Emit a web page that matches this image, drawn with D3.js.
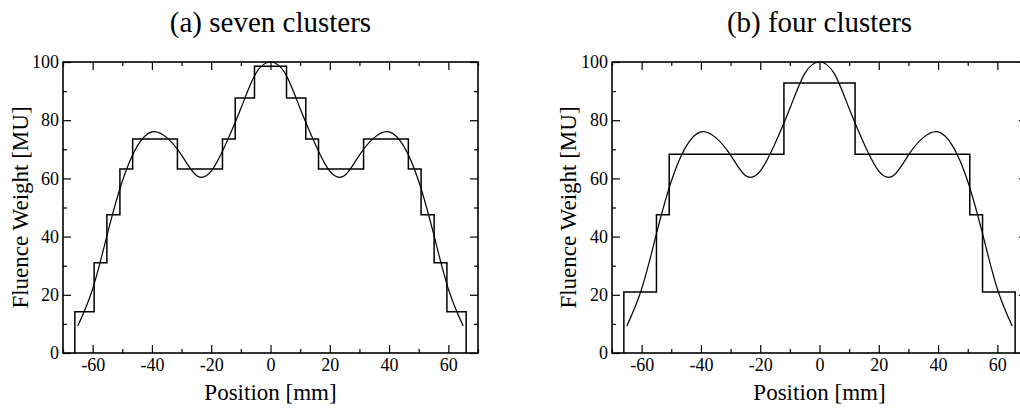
<!DOCTYPE html>
<html lang="en">
<head>
    <meta charset="UTF-8">
    <title>Fluence weight clusters</title>
    <style>
        body { margin: 0; background: #fff; }
        svg text { font-family: "Liberation Serif", "Times New Roman", serif; fill: #000; }
        .axis-label { font-size: 23px; }
        .title { font-size: 29px; }
        .domain { display: none; }
    </style>
</head>
<body>
    <svg width="1020" height="408"></svg>

    <script src="https://d3js.org/d3.v7.min.js"></script>

    <script>

        // Smooth ideal fluence profile (symmetric about 0)
        const profileX = [-65, -60, -55, -50, -45, -40, -35, -30, -25, -20, -15, -10, -5, 0,
                          5, 10, 15, 20, 25, 30, 35, 40, 45, 50, 55, 60, 65];
        const profileY = [9.3, 22, 41, 59, 71, 76, 74, 68, 61, 62.5, 72, 84, 96, 100,
                          96, 84, 72, 62.5, 61, 68, 74, 76, 71, 59, 41, 22, 9.3];

        // (a) seven clusters: step edges and level of each step
        const sevenEdges = [-66, -59.5, -55.2, -50.8, -46.5, -31.4, -16.2, -11.9, -5.4,
                            5.4, 11.9, 16.2, 31.4, 46.5, 50.8, 55.2, 59.5, 66];
        const sevenLevels = [14.2, 31, 47.5, 63.2, 73.5, 63.2, 73.5, 87.6, 98.5,
                             87.6, 73.5, 63.2, 73.5, 63.2, 47.5, 31, 14.2];

        // (b) four clusters
        const fourEdges = [-66, -55, -50.7, -12, 12, 50.7, 55, 66];
        const fourLevels = [21, 47.5, 68.3, 92.8, 68.3, 47.5, 21];

        const xTicks = [-60, -40, -20, 0, 20, 40, 60];
        const xMinor = [-70, -50, -30, -10, 10, 30, 50, 70];
        const yTicks = [0, 20, 40, 60, 80, 100];
        const yMinor = [10, 30, 50, 70, 90];

        const svg = d3.select('svg');

        const plotTop = 62, plotBottom = 353;

        // plain hyphen for negatives, like the original
        const fmt = function (d) { return String(d); };

        const panels = [
            { title: '(a) seven clusters', left: 63, right: 478, edges: sevenEdges, levels: sevenLevels, ylabX: 28 },
            { title: '(b) four clusters', left: 612, right: 1027, edges: fourEdges, levels: fourLevels, ylabX: 576 }
        ];

        panels.forEach(function (p) {

            const xScale = d3.scaleLinear().domain([-70, 70]).range([p.left, p.right]);
            const yScale = d3.scaleLinear().domain([0, 100]).range([plotBottom, plotTop]);

            const g = svg.append('g');

            // ticks, all pointing inward
            const axes = [
                { axis: d3.axisBottom(xScale).tickValues(xTicks).tickSize(-8).tickPadding(5).tickFormat(fmt), t: 'translate(0,' + plotBottom + ')' },
                { axis: d3.axisBottom(xScale).tickValues(xMinor).tickSize(-4).tickFormat(''), t: 'translate(0,' + plotBottom + ')' },
                { axis: d3.axisTop(xScale).tickValues(xTicks).tickSize(-8).tickFormat(''), t: 'translate(0,' + plotTop + ')' },
                { axis: d3.axisTop(xScale).tickValues(xMinor).tickSize(-4).tickFormat(''), t: 'translate(0,' + plotTop + ')' },
                { axis: d3.axisLeft(yScale).tickValues(yTicks).tickSize(-8).tickPadding(4).tickFormat(fmt), t: 'translate(' + p.left + ',0)' },
                { axis: d3.axisLeft(yScale).tickValues(yMinor).tickSize(-4).tickFormat(''), t: 'translate(' + p.left + ',0)' },
                { axis: d3.axisRight(yScale).tickValues(yTicks).tickSize(-8).tickFormat(''), t: 'translate(' + p.right + ',0)' },
                { axis: d3.axisRight(yScale).tickValues(yMinor).tickSize(-4).tickFormat(''), t: 'translate(' + p.right + ',0)' }
            ];

            axes.forEach(function (a) {
                const ag = g.append('g').attr('transform', a.t).call(a.axis);
                ag.attr('font-family', '"Liberation Serif", serif').attr('font-size', 18);
                ag.selectAll('.tick line').attr('stroke', '#000').attr('stroke-width', 1.2);
                ag.selectAll('.tick text')
                    .attr('fill', '#000')
                    .style('font-family', '"Liberation Serif", serif')
                    .style('font-size', '18px');
            });

            // frame
            g.append('rect')
                .attr('x', p.left).attr('y', plotTop)
                .attr('width', p.right - p.left).attr('height', plotBottom - plotTop)
                .attr('fill', 'none').attr('stroke', '#000').attr('stroke-width', 1.6);

            // step profile
            const stepPts = [[p.edges[0], 0]];
            p.levels.forEach(function (v, i) {
                stepPts.push([p.edges[i], v]);
                stepPts.push([p.edges[i + 1], v]);
            });
            stepPts.push([p.edges[p.edges.length - 1], 0]);

            const line = d3.line()
                .x(function (d) { return xScale(d[0]); })
                .y(function (d) { return yScale(d[1]); });

            g.append('path')
                .attr('fill', 'none').attr('stroke', '#000').attr('stroke-width', 1.5)
                .attr('d', line(stepPts));

            // smooth profile
            const smooth = d3.line()
                .x(function (d) { return xScale(d[0]); })
                .y(function (d) { return yScale(d[1]); })
                .curve(d3.curveNatural);

            g.append('path')
                .attr('fill', 'none').attr('stroke', '#000').attr('stroke-width', 1.2)
                .attr('d', smooth(profileX.map(function (x, i) { return [x, profileY[i]]; })));

            // labels
            const cx = xScale(0);
            svg.append('text').attr('class', 'title')
                .attr('x', cx).attr('y', 32).attr('text-anchor', 'middle')
                .text(p.title);

            svg.append('text').attr('class', 'axis-label')
                .attr('x', cx).attr('y', 400).attr('text-anchor', 'middle')
                .text('Position [mm]');

            svg.append('text').attr('class', 'axis-label')
                .attr('transform', 'translate(' + p.ylabX + ',' + ((plotTop + plotBottom) / 2) + ') rotate(-90)')
                .attr('text-anchor', 'middle')
                .text('Fluence Weight [MU]');
        });

    </script>
</body>
</html>
